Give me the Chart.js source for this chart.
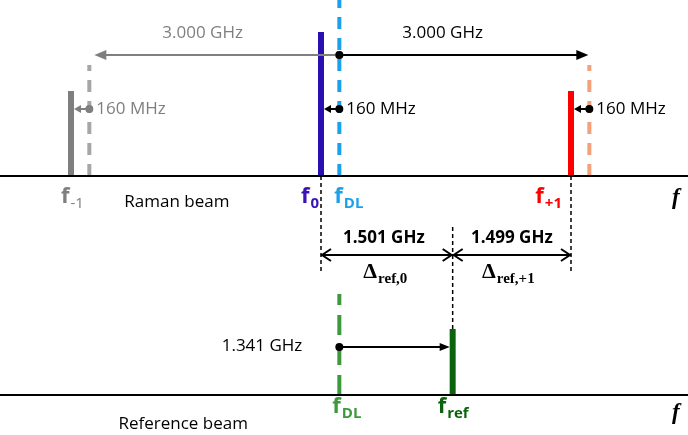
<!DOCTYPE html>
<html>
<head>
<meta charset="utf-8">
<script src="https://cdn.jsdelivr.net/npm/chart.js@4.4.0/dist/chart.umd.min.js"></script>
<style>
  html, body { margin: 0; padding: 0; background: #fff; }
  canvas { display: block; }
</style>
</head>
<body>
<canvas id="spectrum" width="688" height="435"></canvas>
<script>
// Frequencies in GHz, as drawn (the 160 MHz offsets are exaggerated in the sketch)
const ramanNames  = ['f-1', 'f-1 + 160 MHz', 'f0', 'fDL', 'f+1', 'f+1 + 160 MHz'];
const ramanFreq   = [-3.0, -2.78, 0, 0.22, 3.0, 3.22];
const ramanHeight = [85, 111, 144, 176, 85, 111];
const refNames    = ['fDL', 'fref'];
const refFreq     = [0.22, 1.58];
const refHeight   = [101, 66];
const ramanBase = 259;
const refBase = 40;
const spacingLabel = '3.000 GHz';
const shiftLabel = '160 MHz';
const gapLabels = ['1.501 GHz', '1.499 GHz'];
const refShiftLabel = '1.341 GHz';

const X_MIN = -3.852, X_MAX = 4.404;

const ramanColors = ['#7f7f7f', '#a6a6a6', '#2c0fb0', '#1ba1ec', '#ff0000', '#f4a07a'];
const ramanDashed = [false, true, false, true, false, true];
const refColors = ['#3c9a3c', '#0b640b'];
const refDashed = [true, false];

function vline(x, y0, y1, color, width, dash) {
  return {
    data: [{ x: x, y: y0 }, { x: x, y: y1 }],
    showLine: true,
    borderColor: color,
    borderWidth: width,
    borderDash: dash || [],
    pointRadius: 0,
    borderCapStyle: 'butt'
  };
}

const datasets = [];
// frequency axes
datasets.push({ data: [{ x: X_MIN, y: ramanBase }, { x: X_MAX, y: ramanBase }], showLine: true, borderColor: '#000', borderWidth: 2, pointRadius: 0 });
datasets.push({ data: [{ x: X_MIN, y: refBase }, { x: X_MAX, y: refBase }], showLine: true, borderColor: '#000', borderWidth: 2, pointRadius: 0 });
// dotted guides for the detuning brackets
datasets.push(vline(ramanFreq[2], ramanBase, ramanBase - 95, '#000', 1.5, [4, 3]));
datasets.push(vline(ramanFreq[4], ramanBase, ramanBase - 95, '#000', 1.5, [4, 3]));
datasets.push(vline(refFreq[1], refBase + refHeight[1], ramanBase - 50, '#000', 1.5, [4, 3]));
// Raman beam lines
ramanFreq.forEach(function(f, i) {
  const w = ramanDashed[i] ? 4 : 6;
  datasets.push(vline(f, ramanBase, ramanBase + ramanHeight[i], ramanColors[i], w, ramanDashed[i] ? [12, 9] : []));
});
// Reference beam lines
refFreq.forEach(function(f, i) {
  datasets.push(vline(f, refBase, refBase + refHeight[i], refColors[i], refDashed[i] ? 4 : 6, refDashed[i] ? [20, 10] : []));
});

const SANS = '"Open Sans", "Liberation Sans", sans-serif';

function arrowHead(ctx, x, y, dir, color, len, half) {
  ctx.fillStyle = color;
  ctx.beginPath();
  ctx.moveTo(x, y);
  ctx.lineTo(x - dir * len, y - half);
  ctx.lineTo(x - dir * len, y + half);
  ctx.closePath();
  ctx.fill();
}
function chevron(ctx, x, y, dir) {
  ctx.beginPath();
  ctx.moveTo(x - dir * 9, y - 6);
  ctx.lineTo(x, y);
  ctx.lineTo(x - dir * 9, y + 6);
  ctx.stroke();
}
function dot(ctx, x, y, color) {
  ctx.fillStyle = color;
  ctx.beginPath();
  ctx.arc(x, y, 4, 0, Math.PI * 2);
  ctx.fill();
}
function arrow(ctx, x0, x1, y, color, len, half, width) {
  ctx.strokeStyle = color;
  ctx.lineWidth = width;
  ctx.beginPath();
  ctx.moveTo(x0, y);
  ctx.lineTo(x1 - Math.sign(x1 - x0) * (len - 1), y);
  ctx.stroke();
  arrowHead(ctx, x1, y, Math.sign(x1 - x0), color, len, half);
  dot(ctx, x0, y, color);
}
function subLabel(ctx, x, y, main, sub, color, align, serif, subBold) {
  ctx.fillStyle = color;
  ctx.textBaseline = 'alphabetic';
  ctx.textAlign = 'left';
  const mainFont = serif ? 'bold 22px "Liberation Serif", serif' : 'bold 22px ' + SANS;
  const subFont = serif ? 'bold 15px "Liberation Serif", serif' : (subBold === false ? '' : 'bold ') + '15px ' + SANS;
  ctx.font = mainFont;
  const wm = ctx.measureText(main).width;
  ctx.font = subFont;
  const ws = ctx.measureText(sub).width;
  let left = x;
  if (align === 'right') left = x - wm - ws;
  if (align === 'center') left = x - (wm + ws) / 2;
  ctx.font = mainFont;
  ctx.fillText(main, left, y);
  ctx.font = subFont;
  ctx.fillText(sub, left + wm + 1, y + 5);
}
function text(ctx, s, x, y, color, font, align) {
  ctx.fillStyle = color;
  ctx.font = font;
  ctx.textAlign = align || 'left';
  ctx.textBaseline = 'middle';
  ctx.fillText(s, x, y);
}

const annotations = {
  id: 'annotations',
  afterDatasetsDraw(chart) {
    const ctx = chart.ctx;
    const xs = chart.scales.x, ys = chart.scales.y;
    const px = function(f) { return xs.getPixelForValue(f); };
    const py = function(v) { return ys.getPixelForValue(v); };
    ctx.save();

    // 3.000 GHz spacing arrows
    const yTop = py(ramanBase + 121);
    arrow(ctx, px(ramanFreq[3]), px(ramanFreq[1]) + 5, yTop, '#7f7f7f', 12, 5, 2);
    arrow(ctx, px(ramanFreq[3]), px(ramanFreq[5]) - 1, yTop, '#000', 12, 5, 2);
    text(ctx, spacingLabel, px(-1.42), py(ramanBase + 143), '#7f7f7f', '17px ' + SANS, 'center');
    text(ctx, spacingLabel, px(1.46), py(ramanBase + 143), '#000', '17px ' + SANS, 'center');

    // 160 MHz shifts
    const yShift = py(ramanBase + 67);
    const shiftColors = ['#7f7f7f', '#000', '#000'];
    [0, 2, 4].forEach(function(i, k) {
      arrow(ctx, px(ramanFreq[i + 1]), px(ramanFreq[i]) + 3, yShift, shiftColors[k], 7, 4, 2);
      text(ctx, shiftLabel, px(ramanFreq[i + 1]) + 7, yShift, shiftColors[k], '17px ' + SANS, 'left');
    });

    // Raman beam labels
    const yl = py(ramanBase - 27);
    subLabel(ctx, px(ramanFreq[0]) - 10, yl, 'f', '-1', '#7f7f7f', 'left', false, false);
    subLabel(ctx, px(ramanFreq[2]) - 3, yl, 'f', '0', '#3a13b5', 'right');
    subLabel(ctx, px(ramanFreq[3]) - 5, yl, 'f', 'DL', '#1ba1ec', 'left');
    subLabel(ctx, px(ramanFreq[4]) - 10, yl, 'f', '+1', '#ff0000', 'right');
    text(ctx, 'Raman beam', px(-2.36), py(ramanBase - 26), '#000', '17px ' + SANS, 'left');
    ctx.fillStyle = '#000';
    ctx.font = 'bold italic 23px "Liberation Serif", serif';
    ctx.textAlign = 'left';
    ctx.textBaseline = 'alphabetic';
    ctx.fillText('f', px(X_MAX) - 16, py(ramanBase - 28));

    // detuning brackets
    const yDim = py(ramanBase - 79);
    const a = px(ramanFreq[2]), b = px(refFreq[1]), c = px(ramanFreq[4]);
    ctx.strokeStyle = '#000';
    ctx.lineWidth = 2;
    ctx.beginPath();
    ctx.moveTo(a + 1, yDim); ctx.lineTo(c - 1, yDim);
    ctx.stroke();
    chevron(ctx, a + 1, yDim, -1);
    chevron(ctx, b - 1, yDim, 1);
    chevron(ctx, b + 1, yDim, -1);
    chevron(ctx, c - 1, yDim, 1);
    text(ctx, gapLabels[0], (a + b) / 2 - 3, py(ramanBase - 62), '#000', 'bold 17px ' + SANS, 'center');
    text(ctx, gapLabels[1], (b + c) / 2, py(ramanBase - 62), '#000', 'bold 17px ' + SANS, 'center');
    subLabel(ctx, (a + b) / 2 - 2, py(ramanBase - 102), '\u0394', 'ref,0', '#000', 'center', true);
    subLabel(ctx, (b + c) / 2 - 4, py(ramanBase - 102), '\u0394', 'ref,+1', '#000', 'center', true);

    // reference beam
    const yRef = py(refBase + 48);
    arrow(ctx, px(refFreq[0]), px(refFreq[1]) - 3, yRef, '#000', 10, 4, 2);
    text(ctx, refShiftLabel, px(refFreq[0]) - 37, yRef - 1, '#000', '17px ' + SANS, 'right');
    const yr = py(refBase - 18);
    subLabel(ctx, px(refFreq[0]) - 7, yr, 'f', 'DL', '#3c9a3c', 'left');
    subLabel(ctx, px(refFreq[1]) - 15, yr, 'f', 'ref', '#0b640b', 'left');
    text(ctx, 'Reference beam', px(-2.43), py(refBase - 29), '#000', '17px ' + SANS, 'left');
    ctx.fillStyle = '#000';
    ctx.font = 'bold italic 23px "Liberation Serif", serif';
    ctx.textAlign = 'left';
    ctx.textBaseline = 'alphabetic';
    ctx.fillText('f', px(X_MAX) - 16, py(refBase - 24));

    ctx.restore();
  }
};

new Chart(document.getElementById('spectrum'), {
  type: 'scatter',
  data: { datasets: datasets },
  options: {
    responsive: false,
    animation: false,
    events: [],
    layout: { padding: 0 },
    scales: {
      x: { type: 'linear', min: X_MIN, max: X_MAX, display: false },
      y: { type: 'linear', min: 0, max: 435, display: false }
    },
    plugins: { legend: { display: false }, tooltip: { enabled: false } }
  },
  plugins: [annotations]
});
</script>
</body>
</html>
